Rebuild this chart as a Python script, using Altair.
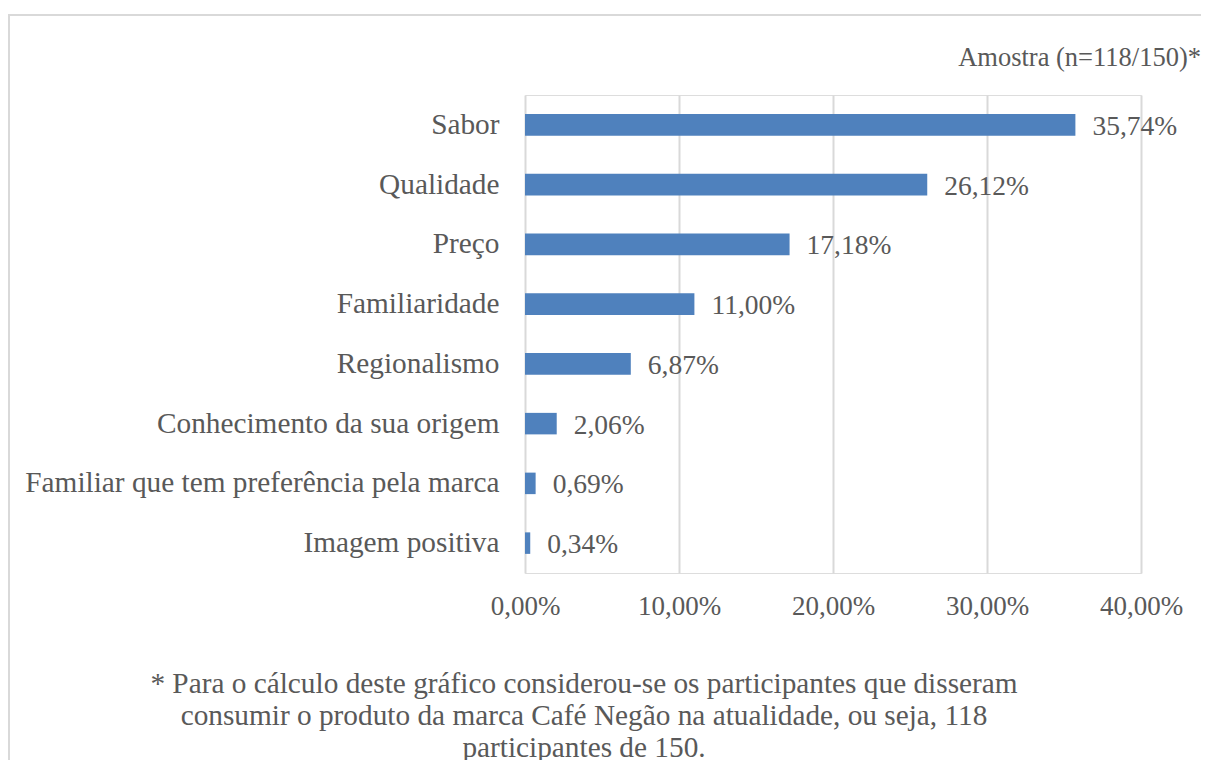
import altair as alt
import pandas as pd

categories = ["Sabor", "Qualidade", "Preço", "Familiaridade\u00a0", "Regionalismo",
              "Conhecimento da sua origem", "Familiar que tem preferência pela marca",
              "Imagem positiva"]
values = [35.74, 26.12, 17.18, 11.00, 6.87, 2.06, 0.69, 0.34]
x_ticks = [0, 10, 20, 30, 40]
sample_note = "Amostra (n=118/150)*"
footnote = ["* Para o cálculo deste gráfico considerou-se os participantes que disseram",
            "consumir o produto da marca Café Negão na atualidade, ou seja, 118",
            "participantes de 150."]

df = pd.DataFrame({"cat": categories, "v": values})

FONT = "Liberation Serif"
GRAY = "#595959"
W, H = 616, 478

base = alt.Chart(df).transform_calculate(
    lab="replace(format(datum.v, '.2f'), '.', ',') + '%'"
)

y_enc = alt.Y("cat:N", sort=categories, title=None,
              scale=alt.Scale(paddingInner=0.64, paddingOuter=0.32),
              axis=alt.Axis(domain=False, ticks=False, labelPadding=26,
                            labelFontSize=29.3, labelColor=GRAY, labelFont=FONT,
                            labelLimit=600))
x_enc = alt.X("v:Q", title=None,
              scale=alt.Scale(domain=[0, 40], nice=False),
              axis=alt.Axis(values=x_ticks, domain=False, ticks=False,
                            grid=True, gridColor="#d9d9d9", gridWidth=2,
                            labelFlush=False, labelOverlap=False,
                            labelExpr="replace(format(datum.value, '.2f'), '.', ',') + '%'",
                            labelPadding=20, labelFontSize=27, labelColor=GRAY,
                            labelFont=FONT))

bars = base.mark_bar(color="#4f81bd").encode(x=x_enc, y=y_enc)
texts = base.mark_text(align="left", baseline="middle", dx=17, dy=2,
                       fontSize=27.5, font=FONT, color=GRAY).encode(
    x="v:Q", y=alt.Y("cat:N", sort=categories), text="lab:N")

note = alt.Chart(pd.DataFrame({"t": [sample_note]})).mark_text(
    align="right", baseline="middle", fontSize=26.5, font=FONT, color=GRAY
).encode(x=alt.value(676), y=alt.value(-37), text="t:N")

foot = alt.Chart(pd.DataFrame({"t": [0]})).mark_text(
    text=footnote, align="center", baseline="middle", fontSize=29.3, font=FONT,
    color=GRAY, lineHeight=32
).encode(x=alt.value(59), y=alt.value(589))

border = alt.Chart(pd.DataFrame({"t": [0]})).mark_rect(
    fill=None, stroke="#d9d9d9", strokeWidth=2
).encode(x=alt.value(-516), x2=alt.value(800), y=alt.value(-80), y2=alt.value(800))

chart = alt.layer(border, bars, texts, note, foot).properties(
    width=W, height=H,
    autosize=alt.AutoSizeParams(type="none"),
    padding={"left": 517, "top": 87, "right": 60, "bottom": 190},
).configure_view(stroke=None).configure(background="white")

chart.save("out.html", embed_options={"renderer": "svg", "actions": False})
